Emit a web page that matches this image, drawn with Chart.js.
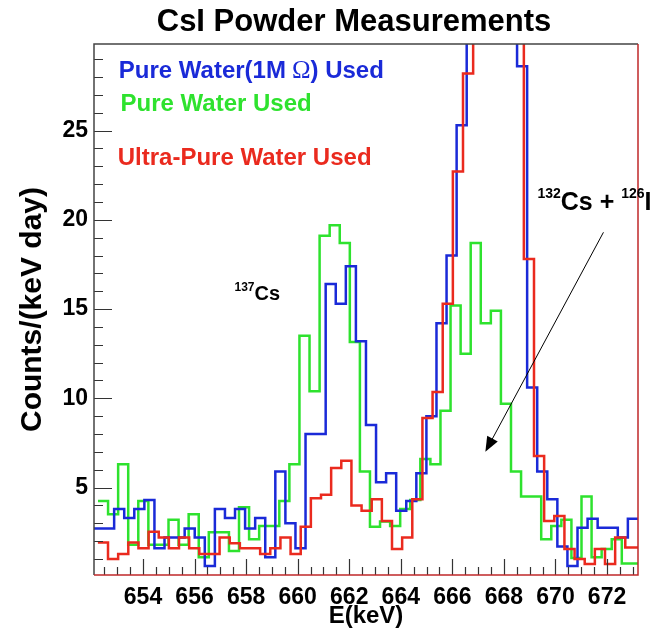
<!DOCTYPE html>
<html>
<head>
<meta charset="utf-8">
<script src="https://cdn.jsdelivr.net/npm/chart.js@4.4.1/dist/chart.umd.min.js"></script>
<style>
  html, body { margin: 0; padding: 0; background: #fff; }
  #wrap { width: 661px; height: 631px; }
</style>
</head>
<body>
<div id="wrap"><canvas id="chart"></canvas></div>
<script>
// axis ranges and tick labels
const xMin = 652.1, xMax = 673.2;
const yMin = 0.1, yMax = 29.85;
const xTicks = [654, 656, 658, 660, 662, 664, 666, 668, 670, 672];
const yTicks = [5, 10, 15, 20, 25];

// binning of each spectrum (keV): first lower edge, bin width
const pureWater1MBins = [652.1, 0.3907];
const pureWaterBins = [652.255, 0.3907];
const ultraPureBins = [652.25, 0.3934];

// counts/(keV day) per bin (bins above the frame get clipped)
const pureWater1M = [2.7, 2.7, 3.8, 3.3, 3.8, 4.3, 1.6, 2.2, 2.2, 2.7,
  2.2, 0.6, 3.8, 3.3, 3.8, 2.7, 3.3, 1.1, 5.9, 3.0,
  1.6, 8.0, 8.0, 16.4, 15.3, 17.4, 13.2, 8.5, 5.3, 5.8,
  3.7, 4.25, 5.8, 9.0, 14.2, 18.0, 25.3, 33, 38, 40,
  37, 31, 28.6, 10.6, 5.9, 4.35, 1.7, 0.6, 2.75, 3.25,
  2.75, 2.75, 2.2, 3.25];
const pureWater = [4.25, 3.5, 6.3, 1.8, 4.25, 1.8, 1.8, 3.2, 1.8, 3.5,
  1.1, 2.5, 2.5, 1.45, 3.9, 2.1, 2.85, 2.85, 4.25, 6.3,
  13.5, 10.4, 19.1, 19.7, 18.7, 13.15, 5.9, 2.8, 3.1, 2.85,
  3.8, 4.3, 6.6, 6.3, 9.3, 15.2, 12.5, 18.7, 14.2, 14.9,
  9.7, 5.9, 4.5, 4.5, 2.1, 2.85, 3.2, 1.05, 4.5, 1.1,
  1.55, 2.1, 0.75, 0.75];
const ultraPure = [1.92, 0.99, 1.27, 1.92, 1.6, 2.52, 2.2, 1.6, 2.2, 1.6,
  1.27, 1.27, 2.2, 1.88, 1.6, 1.6, 1.27, 1.6, 2.2, 1.27,
  2.8, 4.4, 4.6, 6.1, 6.5, 4.0, 3.7, 4.35, 3.13, 1.55,
  2.2, 4.35, 8.9, 10.35, 15.3, 22.7, 28.2, 34, 38, 41,
  39, 33, 17.8, 6.77, 3.13, 3.41, 1.55, 0.99, 0.71, 1.55,
  0.71, 2.2, 1.64, 1.64];

const BLUE = '#1a2ad8', GREEN = '#2ee22e', RED = '#ea2a1e';
const SANS = '"Liberation Sans", Arial, Helvetica, sans-serif';

// histogram -> step points at the bin edges
function steps(bins, counts) {
  const [start, w] = bins;
  const pts = counts.map((c, i) => ({ x: start + i * w, y: c }));
  pts.push({ x: start + counts.length * w, y: counts[counts.length - 1] });
  return pts;
}

// write text pieces one after another (for superscripts / mixed fonts)
function drawPieces(ctx, x, y, pieces) {
  pieces.forEach(p => {
    ctx.font = p.font;
    ctx.fillStyle = p.color || '#000';
    ctx.fillText(p.text, x, y + (p.dy || 0));
    x += ctx.measureText(p.text).width + (p.gap || 0);
  });
}

const rootFrame = {
  id: 'rootFrame',
  afterDatasetsDraw(chart) {
    const { ctx, chartArea: a, scales: { x, y } } = chart;
    ctx.save();

    // tick marks pointing inwards
    ctx.strokeStyle = '#333';
    ctx.lineWidth = 1.2;
    ctx.beginPath();
    for (let i = Math.ceil(xMin * 2); i <= Math.floor(xMax * 2); i++) {
      const px = Math.round(x.getPixelForValue(i / 2)) + 0.5;
      const len = i % 4 === 0 ? 16 : 8;
      ctx.moveTo(px, a.bottom);
      ctx.lineTo(px, a.bottom - len);
    }
    for (let v = 1; v < yMax; v++) {
      const py = Math.round(y.getPixelForValue(v)) + 0.5;
      const len = v % 5 === 0 ? 18 : 9;
      ctx.moveTo(a.left, py);
      ctx.lineTo(a.left + len, py);
    }
    ctx.stroke();

    // frame
    ctx.lineWidth = 1.5;
    ctx.strokeStyle = '#444';
    ctx.beginPath();
    ctx.moveTo(a.left, a.bottom); ctx.lineTo(a.left, a.top); ctx.lineTo(a.right, a.top);
    ctx.stroke();
    ctx.strokeStyle = '#c0282a';
    ctx.beginPath();
    ctx.moveTo(a.right, a.top); ctx.lineTo(a.right, a.bottom); ctx.lineTo(a.left, a.bottom);
    ctx.stroke();

    // title, a little left of the frame centre as in the original
    ctx.textAlign = 'center';
    ctx.textBaseline = 'alphabetic';
    ctx.fillStyle = '#000';
    ctx.font = 'bold 31px ' + SANS;
    ctx.fillText('CsI Powder Measurements', (a.left + a.right) / 2 - 12, 31);

    // labels for the three spectra
    ctx.textAlign = 'left';
    const bold = 'bold 24px ' + SANS;
    drawPieces(ctx, x.getPixelForValue(653.06), y.getPixelForValue(27.95), [
      { text: 'Pure Water(1M', font: bold, color: BLUE, gap: 6 },
      { text: '\u03A9', font: '25px "Liberation Serif", "DejaVu Serif", serif', color: BLUE },
      { text: ') Used', font: bold, color: BLUE }
    ]);
    drawPieces(ctx, x.getPixelForValue(653.13), y.getPixelForValue(26.1), [
      { text: 'Pure Water Used', font: bold, color: GREEN }
    ]);
    drawPieces(ctx, x.getPixelForValue(653.02), y.getPixelForValue(23.08), [
      { text: 'Ultra-Pure Water Used', font: bold, color: RED }
    ]);

    // peak annotations
    drawPieces(ctx, x.getPixelForValue(657.55), y.getPixelForValue(15.5), [
      { text: '137', font: 'bold 12px ' + SANS, dy: -9 },
      { text: 'Cs', font: 'bold 20px ' + SANS }
    ]);
    drawPieces(ctx, x.getPixelForValue(669.3), y.getPixelForValue(20.55), [
      { text: '132', font: 'bold 14px ' + SANS, dy: -12 },
      { text: 'Cs + ', font: 'bold 25px ' + SANS },
      { text: '126', font: 'bold 14px ' + SANS, dy: -12 },
      { text: 'I', font: 'bold 25px ' + SANS }
    ]);

    // arrow towards the combined peak
    const x0 = x.getPixelForValue(671.86), y0 = y.getPixelForValue(19.3);
    const x1 = x.getPixelForValue(667.28), y1 = y.getPixelForValue(7.0);
    const ang = Math.atan2(y1 - y0, x1 - x0);
    ctx.strokeStyle = '#000';
    ctx.lineWidth = 1;
    ctx.beginPath();
    ctx.moveTo(x0, y0);
    ctx.lineTo(x1 - 10 * Math.cos(ang), y1 - 10 * Math.sin(ang));
    ctx.stroke();
    ctx.fillStyle = '#000';
    ctx.beginPath();
    ctx.moveTo(x1, y1);
    ctx.lineTo(x1 - 15 * Math.cos(ang) + 6 * Math.sin(ang), y1 - 15 * Math.sin(ang) - 6 * Math.cos(ang));
    ctx.lineTo(x1 - 15 * Math.cos(ang) - 6 * Math.sin(ang), y1 - 15 * Math.sin(ang) + 6 * Math.cos(ang));
    ctx.closePath();
    ctx.fill();

    ctx.restore();
  }
};

new Chart(document.getElementById('chart'), {
  type: 'line',
  data: {
    datasets: [
      { label: 'Ultra-Pure Water Used', data: steps(ultraPureBins, ultraPure), borderColor: RED, order: 1 },
      { label: 'Pure Water(1M \u03A9) Used', data: steps(pureWater1MBins, pureWater1M), borderColor: BLUE, order: 2 },
      { label: 'Pure Water Used', data: steps(pureWaterBins, pureWater), borderColor: GREEN, order: 3 }
    ]
  },
  options: {
    responsive: true,
    maintainAspectRatio: false,
    animation: false,
    layout: { padding: { top: 44, right: 23, bottom: 0, left: 0 } },
    elements: {
      point: { radius: 0 },
      // value of each bin held from its lower edge to the next one
      line: { borderWidth: 2.5, stepped: 'before', fill: false }
    },
    datasets: { line: { clip: 0 } },
    plugins: {
      legend: { display: false },
      tooltip: { enabled: false },
      title: { display: false }
    },
    scales: {
      x: {
        type: 'linear',
        min: xMin,
        max: xMax,
        afterBuildTicks: s => { s.ticks = xTicks.map(v => ({ value: v })); },
        afterFit: s => { s.height = 56; },
        grid: { display: false, drawTicks: false },
        border: { display: false },
        ticks: { color: '#000', padding: 9, maxRotation: 0, font: { family: SANS, size: 23, weight: 'bold' } },
        title: {
          display: true,
          text: 'E(keV)',
          color: '#000',
          font: { family: SANS, size: 24, weight: 'bold', lineHeight: 1.2 },
          padding: { top: 0, bottom: 0 }
        }
      },
      y: {
        type: 'linear',
        min: yMin,
        max: yMax,
        afterBuildTicks: s => { s.ticks = yTicks.map(v => ({ value: v })); },
        afterFit: s => { s.width = 94; },
        grid: { display: false, drawTicks: false },
        border: { display: false },
        ticks: { color: '#000', padding: 6, font: { family: SANS, size: 23, weight: 'bold' } },
        title: {
          display: true,
          text: 'Counts/(keV day)',
          color: '#000',
          font: { family: SANS, size: 30, weight: 'bold', lineHeight: 1.2 },
          padding: { top: 15, bottom: 0 }
        }
      }
    }
  },
  plugins: [rootFrame]
});
</script>
</body>
</html>
